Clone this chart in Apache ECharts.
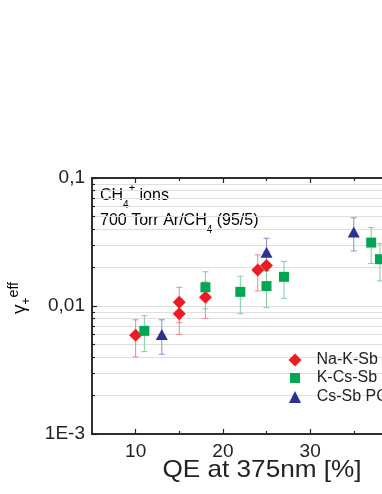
<!DOCTYPE html>
<html>
<head>
<meta charset="utf-8">
<script src="https://cdn.jsdelivr.net/npm/echarts@6/dist/echarts.min.js"></script>
<style>
html,body{margin:0;padding:0;background:#fff;}
#chart{width:382px;height:494px;}
</style>
</head>
<body>
<div id="chart"></div>
<script>
// ---- data ----
const naKSbX = [10, 15, 15, 18, 24, 25];
const naKSbY = [0.0059, 0.0107, 0.0087, 0.0117, 0.0191, 0.0207];
const naKSbErr = [0.0019, 0.0033, 0.0027, 0.0037, 0.006, 0.006];

const kCsSbX = [11, 18, 22, 25, 27, 37, 38];
const kCsSbY = [0.0064, 0.014, 0.0129, 0.0143, 0.0169, 0.0313, 0.0232];
const kCsSbErr = [0.002, 0.0045, 0.0042, 0.0046, 0.0054, 0.0098, 0.0075];

const csSbX = [13, 25, 35];
const csSbY = [0.006, 0.0263, 0.0379];
const csSbErr = [0.0018, 0.0075, 0.011];

const seriesNames = ['Na-K-Sb', 'K-Cs-Sb', 'Cs-Sb PC'];

const xMin = 5, xMax = 45;
const xMajorTicks = [10, 20, 30, 40];
const xMinorTicks = [15, 25, 35];
const yMin = 0.001, yMax = 0.1;
const yMajorTicks = [0.001, 0.01, 0.1];
const yTickLabels = ['1E-3', '0,01', '0,1'];
const yMinorTicks = [0.002, 0.003, 0.004, 0.005, 0.006, 0.007, 0.008, 0.009,
                     0.02, 0.03, 0.04, 0.05, 0.06, 0.07, 0.08, 0.09];

// ---- styles ----
const FF = 'Liberation Sans, Arial, sans-serif';
const AX = '#222';
const GRIDC = '#dedede';

const chart = echarts.init(document.getElementById('chart'), null, {renderer: 'canvas'});

function zip(xs, ys) { return xs.map((x, i) => [x, ys[i]]); }

function errSeries(name, xs, ys, errs, color) {
  return {
    type: 'custom',
    name: name + ' err',
    xAxisIndex: 0, yAxisIndex: 0,
    silent: true,
    z: 2,
    encode: {x: 0, y: [1, 2]},
    data: xs.map((x, i) => [x, ys[i] - errs[i], ys[i] + errs[i]]),
    renderItem: function (params, api) {
      const lo = api.coord([api.value(0), api.value(1)]);
      const hi = api.coord([api.value(0), api.value(2)]);
      const w = 3;
      const st = {stroke: color, lineWidth: 1};
      return {
        type: 'group',
        children: [
          {type: 'line', shape: {x1: lo[0], y1: lo[1], x2: hi[0], y2: hi[1]}, style: st},
          {type: 'line', shape: {x1: lo[0] - w, y1: lo[1], x2: lo[0] + w, y2: lo[1]}, style: st},
          {type: 'line', shape: {x1: hi[0] - w, y1: hi[1], x2: hi[0] + w, y2: hi[1]}, style: st}
        ]
      };
    }
  };
}

function xAx(pos, ticks, len, labels) {
  return {
    type: 'value', min: xMin, max: xMax, position: pos,
    axisLine: {show: true, onZero: false, lineStyle: {color: AX, width: 1.5}},
    axisTick: {show: true, inside: true, length: len, customValues: ticks, lineStyle: {color: AX, width: 1.2}},
    axisLabel: labels ? {show: true, customValues: ticks, margin: 8, fontSize: 19, color: AX, fontFamily: FF} : {show: false},
    splitLine: {show: false}
  };
}

function yAx(ticks, len, labels, split) {
  return {
    type: 'log', logBase: 10, min: yMin, max: yMax, position: 'left',
    axisLine: {show: true, onZero: false, lineStyle: {color: AX, width: 1.5}},
    axisTick: {show: true, inside: true, length: len, customValues: ticks, lineStyle: {color: AX, width: 1.2}},
    axisLabel: labels ? {
      show: true, customValues: ticks, margin: 7, fontSize: 19, color: AX, fontFamily: FF,
      formatter: function (v) {
        for (let i = 0; i < yMajorTicks.length; i++) {
          if (Math.abs(Math.log10(v) - Math.log10(yMajorTicks[i])) < 1e-6) return yTickLabels[i];
        }
        return '';
      }
    } : {show: false},
    splitLine: {show: split, lineStyle: {color: GRIDC, width: 1}}
  };
}

const subRich = {
  m: {fontSize: 16, fontFamily: FF, color: AX, lineHeight: 28},
  s: {fontSize: 10, fontFamily: FF, color: AX, lineHeight: 19, verticalAlign: 'bottom'},
  u: {fontSize: 11, fontFamily: FF, color: AX, lineHeight: 4, verticalAlign: 'top'}
};

function legendFor(name, icon, h, left, pad, top) {
  return {
    data: [{name: name, icon: icon}],
    left: left, top: top, orient: 'vertical', padding: 0,
    itemWidth: h, itemHeight: h, selectedMode: false,
    textStyle: {fontSize: 16, fontFamily: FF, color: AX, lineHeight: 18, padding: [0, 0, 0, pad]}
  };
}

const option = {
  animation: false,
  backgroundColor: '#fff',
  grid: {left: 92, top: 178, width: 349, height: 256, containLabel: false, outerBoundsMode: 'none'},
  xAxis: [
    xAx('bottom', xMajorTicks, 5, true),
    xAx('bottom', xMinorTicks, 3, false),
    xAx('top', xMajorTicks, 5, false),
    xAx('top', xMinorTicks, 3, false)
  ],
  yAxis: [
    yAx(yMajorTicks, 5, true, true),
    yAx(yMinorTicks, 3, false, true)
  ],
  legend: [
    legendFor(seriesNames[0], 'diamond', 13, 288.5, 10, 351),
    legendFor(seriesNames[1], 'rect', 10, 290, 11.7, 369),
    legendFor(seriesNames[2], 'triangle', 12, 289, 10.7, 388)
  ],
  graphic: [
    {type: 'text', x: 100, y: 196, style: {text: '{m|CH}{s|4}{u|+}{m| ions}', rich: subRich, verticalAlign: 'middle', align: 'left'}},
    {type: 'text', x: 100, y: 221, style: {text: '{m|700 Torr Ar/CH}{s|4}{m| (95/5)}', rich: subRich, verticalAlign: 'middle', align: 'left'}},
    {type: 'text', x: 262, y: 470, scaleX: 1.09, style: {text: 'QE at 375nm [%]', font: '24px ' + FF, fill: AX, align: 'center', verticalAlign: 'middle'}},
    {type: 'text', x: 20, y: 298, rotation: Math.PI / 2, style: {
      text: '{g|γ}{p|+}{e|eff}', align: 'center', verticalAlign: 'middle',
      rich: {
        g: {fontSize: 19, fontFamily: FF, color: AX, lineHeight: 26},
        p: {fontSize: 12, fontFamily: FF, color: AX, lineHeight: 14, verticalAlign: 'bottom'},
        e: {fontSize: 14, fontFamily: FF, color: AX, lineHeight: 6, verticalAlign: 'top'}
      }
    }}
  ],
  series: [
    errSeries(seriesNames[0], naKSbX, naKSbY, naKSbErr, '#f2848a'),
    errSeries(seriesNames[1], kCsSbX, kCsSbY, kCsSbErr, '#7fcf9f'),
    errSeries(seriesNames[2], csSbX, csSbY, csSbErr, '#8c8ec8'),
    {type: 'scatter', name: seriesNames[0], data: zip(naKSbX, naKSbY), symbol: 'diamond', symbolSize: 13,
     itemStyle: {color: '#ed1c24', opacity: 1}, z: 3},
    {type: 'scatter', name: seriesNames[1], data: zip(kCsSbX, kCsSbY), symbol: 'rect', symbolSize: 10,
     itemStyle: {color: '#00a651', opacity: 1}, z: 3},
    {type: 'scatter', name: seriesNames[2], data: zip(csSbX, csSbY), symbol: 'triangle', symbolSize: [12, 11],
     itemStyle: {color: '#2e3192', opacity: 1}, z: 3}
  ]
};
chart.setOption(option);
</script>
</body>
</html>
